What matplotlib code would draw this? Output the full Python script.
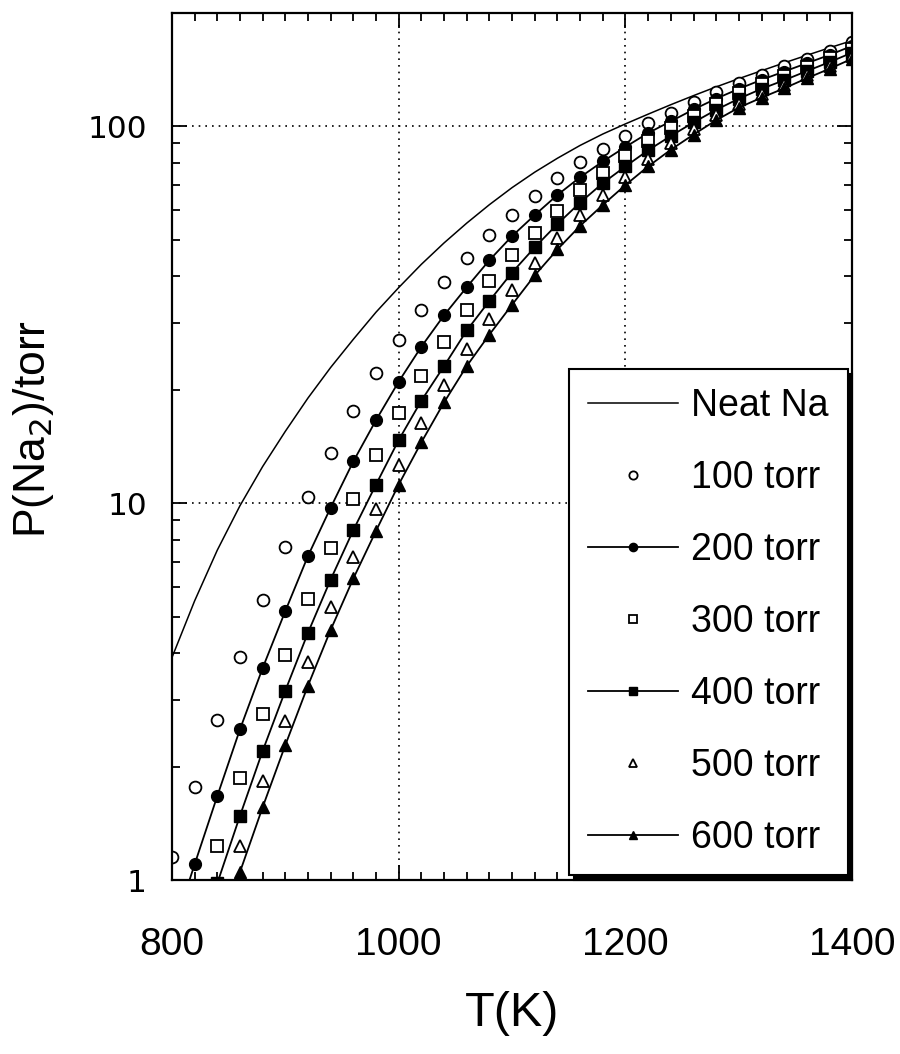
import numpy as np
import matplotlib.pyplot as plt
from matplotlib.ticker import FixedLocator, MultipleLocator, LogLocator, NullFormatter

nan = np.nan

temps = list(range(800, 1401, 20))

neat_na = [3.89, 5.50, 7.50, 9.84, 12.5, 15.5, 19.0, 22.9, 27.2, 32.1,
           37.3, 43.0, 49.0, 55.3, 61.9, 68.7, 75.5, 82.2, 88.9, 95.3,
           101.4, 107.6, 114.0, 120.5, 127.1, 133.7, 140.3, 147.2, 154.2, 161.4,
           168.7]

p100 = [1.15, 1.77, 2.66, 3.90, 5.55, 7.66, 10.4, 13.6, 17.5, 22.2,
        27.0, 32.6, 38.5, 44.8, 51.4, 58.1, 65.3, 72.8, 80.3, 87.0,
        94.4, 102.0, 108.6, 115.8, 123.0, 130.0, 137.0, 144.0, 151.0, 158.5,
        167.0]

p200 = [0.72, 1.10, 1.67, 2.51, 3.65, 5.17, 7.24, 9.73, 12.9, 16.6,
        21.0, 26.0, 31.5, 37.4, 44.1, 51.1, 58.1, 65.7, 73.2, 80.6,
        88.1, 95.9, 103.0, 110.7, 118.3, 125.6, 132.7, 139.6, 146.9, 154.5,
        163.3]

p300 = [nan, nan, 1.23, 1.86, 2.75, 3.96, 5.56, 7.62, 10.25, 13.4,
        17.3, 21.8, 26.7, 32.6, 38.8, 45.5, 52.1, 59.7, 67.8, 75.0,
        83.2, 91.2, 98.8, 106.7, 114.6, 122.2, 129.2, 136.1, 143.5, 151.4,
        160.3]

p400 = [nan, 0.65, 0.98, 1.48, 2.20, 3.18, 4.53, 6.27, 8.48, 11.2,
        14.7, 18.7, 23.1, 28.7, 34.4, 40.9, 47.7, 55.0, 62.7, 70.6,
        78.2, 86.3, 94.2, 102.3, 110.5, 118.3, 125.6, 132.4, 140.0, 147.9,
        156.7]

p500 = [nan, nan, nan, 1.23, 1.83, 2.64, 3.80, 5.30, 7.20, 9.64,
        12.65, 16.3, 20.6, 25.6, 30.8, 36.8, 43.4, 50.4, 58.1, 65.7,
        73.5, 81.8, 90.2, 98.4, 106.9, 114.8, 121.9, 128.8, 136.8, 144.5,
        153.5]

p600 = [nan, nan, 0.70, 1.05, 1.56, 2.28, 3.28, 4.61, 6.31, 8.44,
        11.2, 14.5, 18.5, 23.1, 28.0, 33.6, 40.2, 47.1, 54.4, 61.8,
        69.8, 78.2, 86.6, 95.0, 103.7, 112.0, 119.0, 126.0, 134.0, 142.0,
        151.0]

x_ticks = [800, 1000, 1200, 1400]
y_ticks = [1, 10, 100]

plt.rcParams["font.family"] = ["Liberation Sans", "DejaVu Sans"]

fig = plt.figure(figsize=(9, 10.54), dpi=100)
ax = fig.add_axes([0.191, 0.165, 0.756, 0.823])

ax.plot(temps, neat_na, color="black", lw=1.1, label="Neat Na")
ax.plot(temps, p100, ls="none", marker="o", ms=8.5, mfc="white", mec="black",
        mew=1.3, label="100 torr")
ax.plot(temps, p200, color="black", lw=1.3, marker="o", ms=8.5, mfc="black",
        mec="black", label="200 torr")
ax.plot(temps, p300, ls="none", marker="s", ms=8, mfc="white", mec="black",
        mew=1.3, label="300 torr")
ax.plot(temps, p400, color="black", lw=1.3, marker="s", ms=8, mfc="black",
        mec="black", label="400 torr")
ax.plot(temps, p500, ls="none", marker="^", ms=9, mfc="white", mec="black",
        mew=1.3, label="500 torr")
ax.plot(temps, p600, color="black", lw=1.3, marker="^", ms=9, mfc="black",
        mec="black", label="600 torr")

ax.set_yscale("log")
ax.set_xlim(800, 1400)
ax.set_ylim(1, 200)

ax.xaxis.set_major_locator(FixedLocator(x_ticks))
ax.xaxis.set_minor_locator(MultipleLocator(20))
ax.yaxis.set_major_locator(FixedLocator(y_ticks))
ax.yaxis.set_minor_locator(LogLocator(base=10, subs=range(2, 10)))
ax.yaxis.set_minor_formatter(NullFormatter())
ax.set_xticklabels([str(t) for t in x_ticks], fontsize=28)
ax.set_yticklabels([str(t) for t in y_ticks], fontsize=22.5, family="DejaVu Sans")

ax.tick_params(which="both", direction="in", top=True, right=True, width=1.3)
ax.tick_params(which="major", length=11)
ax.tick_params(which="minor", length=6)
ax.tick_params(axis="x", which="major", pad=34)
ax.tick_params(axis="y", which="major", pad=18)

ax.grid(True, which="major", color="black", ls=(0, (1, 3)), lw=1.2)
for side in ax.spines.values():
    side.set_linewidth(1.6)

ax.set_xlabel("T(K)", fontsize=35, labelpad=20)
ax.set_ylabel("P(Na$_2$)/torr", fontsize=32)
ax.yaxis.set_label_coords(-0.17, 0.52)

leg = ax.legend(loc="lower right", bbox_to_anchor=(0.993, 0.006),
                borderaxespad=0, fontsize=27, frameon=True, fancybox=False,
                shadow={"color": "black", "alpha": 1, "ox": 3.5, "oy": -3.5},
                handlelength=2.4, handletextpad=0.35, labelspacing=0.96,
                borderpad=0.5, markerscale=0.7)
leg.get_frame().set_edgecolor("black")
leg.get_frame().set_linewidth(1.5)
leg.get_frame().set_alpha(1)

fig.savefig("out.png", dpi=100)
